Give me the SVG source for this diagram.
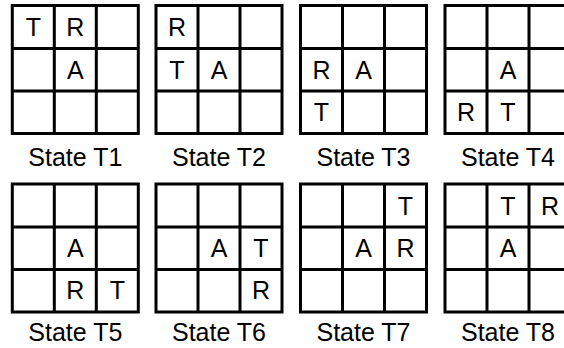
<svg xmlns="http://www.w3.org/2000/svg" width="564" height="348" viewBox="0 0 564 348">
<style>
.g{fill:none;stroke:#000;stroke-width:3}
.c{font-family:"Liberation Sans",Arial,sans-serif;font-size:25px;text-anchor:middle;fill:#000}
.l{font-family:"Liberation Sans",Arial,sans-serif;font-size:25px;text-anchor:middle;fill:#000}
</style>
<defs>
<g id="grid">
<rect class="g" x="0" y="0" width="126" height="128"/>
<path class="g" d="M42 0V128M84 0V128M0 43H126M0 85.5H126"/>
</g>
</defs>
<rect width="564" height="348" fill="#fff"/>
<g id="T1" transform="translate(12.3,5.5)">
<use href="#grid"/>
<text class="c" x="21" y="30.5">T</text>
<text class="c" x="63" y="30.5">R</text>
<text class="c" x="63" y="73">A</text>
<text class="l" x="63" y="160">State T1</text>
</g>
<g id="T2" transform="translate(156,5.5)">
<use href="#grid"/>
<text class="c" x="21" y="30.5">R</text>
<text class="c" x="21" y="73">T</text>
<text class="c" x="63" y="73">A</text>
<text class="l" x="63" y="160">State T2</text>
</g>
<g id="T3" transform="translate(300.5,5.5)">
<use href="#grid"/>
<text class="c" x="21" y="73">R</text>
<text class="c" x="63" y="73">A</text>
<text class="c" x="21" y="115">T</text>
<text class="l" x="63" y="160">State T3</text>
</g>
<g id="T4" transform="translate(445,5.5)">
<use href="#grid"/>
<text class="c" x="63" y="73">A</text>
<text class="c" x="21" y="115">R</text>
<text class="c" x="63" y="115">T</text>
<text class="l" x="63" y="160">State T4</text>
</g>
<g id="T5" transform="translate(12.3,184)">
<use href="#grid"/>
<text class="c" x="63" y="73">A</text>
<text class="c" x="63" y="115">R</text>
<text class="c" x="105" y="115">T</text>
<text class="l" x="63" y="156.5">State T5</text>
</g>
<g id="T6" transform="translate(156,184)">
<use href="#grid"/>
<text class="c" x="63" y="73">A</text>
<text class="c" x="105" y="73">T</text>
<text class="c" x="105" y="115">R</text>
<text class="l" x="63" y="156.5">State T6</text>
</g>
<g id="T7" transform="translate(300.5,184)">
<use href="#grid"/>
<text class="c" x="105" y="30.5">T</text>
<text class="c" x="63" y="73">A</text>
<text class="c" x="105" y="73">R</text>
<text class="l" x="63" y="156.5">State T7</text>
</g>
<g id="T8" transform="translate(445,184)">
<use href="#grid"/>
<text class="c" x="63" y="30.5">T</text>
<text class="c" x="105" y="30.5">R</text>
<text class="c" x="63" y="73">A</text>
<text class="l" x="63" y="156.5">State T8</text>
</g>
<g id="connectors"/>
</svg>
